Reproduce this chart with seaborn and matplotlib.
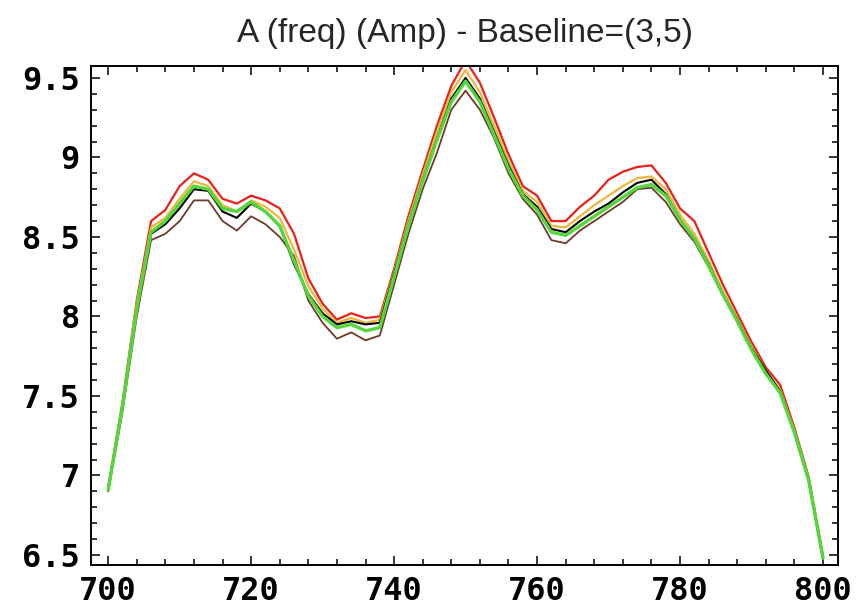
import numpy as np
import pandas as pd
import matplotlib
matplotlib.use('Agg')
import matplotlib.pyplot as plt
import seaborn as sns
from matplotlib.ticker import MultipleLocator

# wavelength grid
freq = np.arange(700, 801, 2)

# amplitude traces
amp_red = [6.92, 7.46, 8.10, 8.60, 8.67, 8.82, 8.90, 8.86, 8.74, 8.71,
           8.76, 8.73, 8.68, 8.52, 8.24, 8.08, 7.98, 8.02, 7.99, 8.00,
           8.30, 8.63, 8.92, 9.20, 9.45, 9.61, 9.47, 9.25, 9.02, 8.82,
           8.76, 8.60, 8.60, 8.69, 8.76, 8.86, 8.91, 8.94, 8.95, 8.84,
           8.68, 8.60, 8.40, 8.20, 8.02, 7.84, 7.68, 7.57, 7.30, 6.99, 6.49]
amp_orange = [6.91, 7.45, 8.08, 8.56, 8.62, 8.74, 8.85, 8.82, 8.70, 8.66,
              8.73, 8.69, 8.62, 8.42, 8.19, 8.05, 7.96, 7.99, 7.96, 7.98,
              8.28, 8.60, 8.89, 9.16, 9.41, 9.55, 9.41, 9.20, 8.98, 8.79,
              8.72, 8.57, 8.56, 8.63, 8.70, 8.76, 8.82, 8.87, 8.88, 8.80,
              8.64, 8.52, 8.35, 8.16, 7.99, 7.81, 7.66, 7.54, 7.28, 6.98, 6.49]
amp_black = [6.91, 7.43, 8.05, 8.52, 8.58, 8.68, 8.80, 8.79, 8.66, 8.62,
             8.71, 8.66, 8.57, 8.33, 8.14, 8.02, 7.95, 7.97, 7.95, 7.96,
             8.27, 8.58, 8.86, 9.12, 9.37, 9.50, 9.37, 9.16, 8.95, 8.77,
             8.69, 8.55, 8.53, 8.60, 8.66, 8.71, 8.78, 8.84, 8.86, 8.77,
             8.61, 8.49, 8.33, 8.14, 7.98, 7.80, 7.66, 7.53, 7.27, 6.97, 6.48]
amp_green = [6.91, 7.43, 8.05, 8.53, 8.60, 8.71, 8.82, 8.80, 8.68, 8.66,
             8.72, 8.66, 8.57, 8.35, 8.13, 8.00, 7.93, 7.95, 7.91, 7.93,
             8.25, 8.57, 8.85, 9.11, 9.35, 9.48, 9.35, 9.14, 8.93, 8.76,
             8.67, 8.53, 8.51, 8.57, 8.63, 8.69, 8.75, 8.81, 8.83, 8.76,
             8.61, 8.49, 8.32, 8.14, 7.97, 7.79, 7.64, 7.52, 7.27, 6.97, 6.48]
amp_brown = [6.90, 7.40, 8.00, 8.48, 8.52, 8.60, 8.73, 8.73, 8.60, 8.54,
             8.63, 8.58, 8.50, 8.38, 8.10, 7.96, 7.86, 7.90, 7.85, 7.88,
             8.20, 8.52, 8.80, 9.03, 9.30, 9.42, 9.30, 9.12, 8.90, 8.74,
             8.64, 8.48, 8.46, 8.54, 8.60, 8.66, 8.72, 8.80, 8.81, 8.72,
             8.58, 8.47, 8.31, 8.13, 7.97, 7.79, 7.64, 7.52, 7.27, 6.96, 6.47]

x_ticks = [700, 720, 740, 760, 780, 800]
y_ticks = [6.5, 7, 7.5, 8, 8.5, 9, 9.5]
y_labels = ['6.5', '7', '7.5', '8', '8.5', '9', '9.5']

sns.set_style('white')

fig = plt.figure(figsize=(8.61, 6.13), dpi=100)
ax = fig.add_axes([0.1057, 0.0783, 0.8676, 0.814])

sns.lineplot(x=freq, y=amp_red, ax=ax, color='#e8211b', lw=1.6)
sns.lineplot(x=freq, y=amp_orange, ax=ax, color='#f3b43a', lw=1.6)
sns.lineplot(x=freq, y=amp_brown, ax=ax, color='#6e3b2a', lw=1.3)
sns.lineplot(x=freq, y=amp_black, ax=ax, color='black', lw=1.5)
sns.lineplot(x=freq, y=amp_green, ax=ax, color='#52d83a', lw=2.4)

ax.set_xlim(697.6, 802.1)
ax.set_ylim(6.437, 9.575)
ax.set_xticks(x_ticks)
ax.set_xticklabels([str(t) for t in x_ticks])
ax.set_yticks(y_ticks)
ax.set_yticklabels(y_labels)
ax.xaxis.set_minor_locator(MultipleLocator(4))
ax.yaxis.set_minor_locator(MultipleLocator(0.1))

ax.tick_params(which='both', direction='in', top=True, right=True,
               bottom=True, left=True, width=1.1, colors='black')
ax.tick_params(which='major', length=6.5, pad=8)
ax.tick_params(which='minor', length=4.2)
for lab in ax.get_xticklabels() + ax.get_yticklabels():
    lab.set_family('DejaVu Sans Mono')
    lab.set_fontweight('bold')
    lab.set_fontsize(23)

for sp in ax.spines.values():
    sp.set_visible(True)
    sp.set_color('black')
    sp.set_linewidth(1.4)

ax.set_xlabel('')
ax.set_ylabel('')
fig.text(0.5395, 0.945, 'A (freq) (Amp) - Baseline=(3,5)', ha='center', va='center',
         fontsize=24, family='Liberation Sans')

fig.savefig('out.png', dpi=100)
